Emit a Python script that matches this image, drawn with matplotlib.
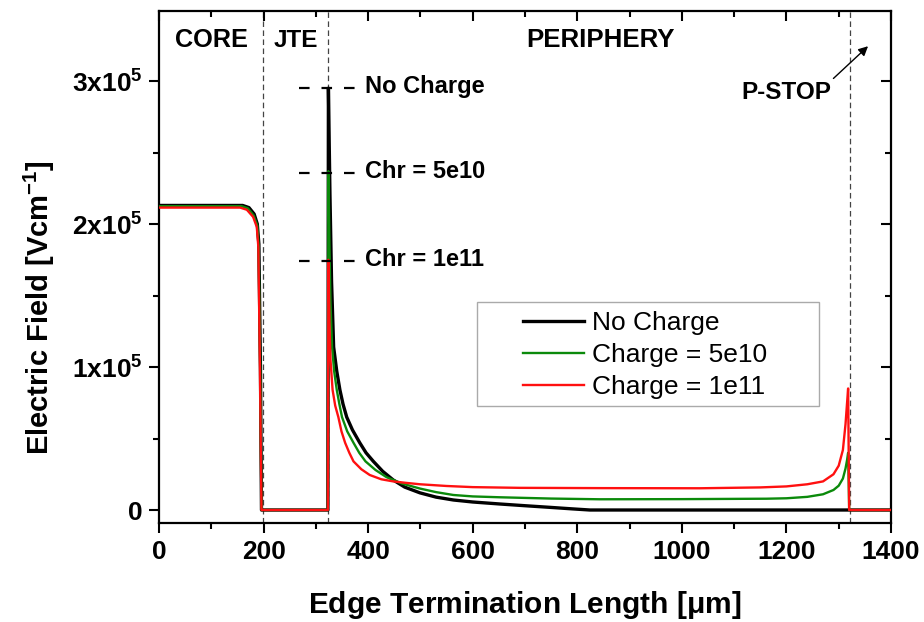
import matplotlib
matplotlib.use('Agg')
import matplotlib.pyplot as plt
from matplotlib.patches import Rectangle
from matplotlib.ticker import MultipleLocator

plt.rcParams['font.family'] = ['Liberation Sans', 'DejaVu Sans']
plt.rcParams['font.weight'] = 'bold'
plt.rcParams['mathtext.fontset'] = 'custom'
plt.rcParams['mathtext.rm'] = 'Liberation Sans'
plt.rcParams['mathtext.bf'] = 'Liberation Sans:bold'
plt.rcParams['mathtext.it'] = 'Liberation Sans:italic'
plt.rcParams['mathtext.default'] = 'bf'
plt.rcParams['lines.scale_dashes'] = False

# values (x in um, field in units of 1e5 V/cm)
x_nocharge = [0, 160, 172, 182, 188, 191, 194, 196, 323, 324, 327, 330, 334, 340, 346, 352, 359, 370, 384,
              396, 410, 428, 448, 470, 499, 530, 563, 600, 652, 700, 750, 790, 824, 1320, 1400]
e_nocharge = [2.13, 2.13, 2.115, 2.07, 2.00, 1.86, 1.0, 0, 0, 2.95, 2.2, 1.6, 1.14, 0.97, 0.84, 0.74, 0.65, 0.56, 0.47,
              0.40, 0.34, 0.27, 0.21, 0.16, 0.12, 0.09, 0.07, 0.056, 0.042, 0.03, 0.018, 0.008, 0, 0, 0]

x_5e10 = [0, 158, 170, 181, 188, 190.5, 193.5, 196, 323, 324, 326, 328, 331, 335, 340, 345, 350, 360, 372, 383,
          395, 414, 435, 465, 499, 530, 563, 600, 652, 750, 843, 1000, 1162, 1200, 1240, 1270, 1290, 1300,
          1308, 1313, 1316, 1318, 1320, 1400]
e_5e10 = [2.125, 2.125, 2.11, 2.06, 1.99, 1.85, 1.0, 0, 0, 2.37, 1.85, 1.45, 1.14, 0.97, 0.84, 0.74, 0.65, 0.55, 0.47, 0.40,
          0.34, 0.28, 0.23, 0.185, 0.15, 0.125, 0.105, 0.095, 0.089, 0.08, 0.075, 0.076, 0.079, 0.082, 0.092, 0.11, 0.14, 0.17,
          0.22, 0.29, 0.35, 0.40, 0, 0]

x_1e11 = [0, 155, 168, 180, 187, 190, 193, 196, 323, 324, 326, 328, 332, 337, 343, 349, 356, 364, 372, 387,
          403, 425, 448, 472, 499, 550, 600, 690, 850, 1034, 1150, 1200, 1240, 1270, 1290, 1300, 1308, 1313,
          1316, 1318, 1320, 1400]
e_1e11 = [2.115, 2.115, 2.10, 2.05, 1.98, 1.84, 1.0, 0, 0, 1.75, 1.3, 1.05, 0.84, 0.73, 0.65, 0.55, 0.47, 0.40, 0.34, 0.285,
          0.245, 0.215, 0.20, 0.19, 0.18, 0.168, 0.16, 0.155, 0.153, 0.152, 0.158, 0.165, 0.18, 0.20, 0.25, 0.31, 0.42, 0.60,
          0.75, 0.85, 0, 0]

series_labels = ['No Charge', 'Charge = 5e10', 'Charge = 1e11']
peak_labels = ['No Charge', 'Chr = 5e10', 'Chr = 1e11']
peak_values = [2.95, 2.357, 1.742]
boundaries = [198, 323, 1321]
region_labels = ['CORE', 'JTE', 'PERIPHERY']
region_x = [31, 220, 702]
region_size = [18.2, 17.5, 18.6]
yticks = [0, 1e5, 2e5, 3e5]
ytick_labels = ['0', r'$1x10^5$', r'$2x10^5$', r'$3x10^5$']

fig = plt.figure(figsize=(9.24, 6.22), dpi=100)
ax = fig.add_axes([159/924, 1-523/622, 732/924, 512/622])

for b in boundaries:
    ax.axvline(b, color='#444444', lw=0.9, dashes=(4, 2.5), zorder=1)

ax.plot(x_nocharge, [v*1e5 for v in e_nocharge], color='black', lw=2.4, label=series_labels[0], zorder=3)
ax.plot(x_5e10, [v*1e5 for v in e_5e10], color='#0b8a0b', lw=1.7, label=series_labels[1], zorder=4)
ax.plot(x_1e11, [v*1e5 for v in e_1e11], color='#ff1010', lw=1.7, label=series_labels[2], zorder=5)

# peak markers
for lab, pv in zip(peak_labels, peak_values):
    ax.plot([268, 375], [pv*1e5, pv*1e5], color='black', lw=1.6, dashes=(7.6, 8.6), zorder=6)
    ax.text(394, pv*1e5 - 0.037e5, lab, fontsize=17, fontweight='bold', va='baseline')

for lab, xr, fs in zip(region_labels, region_x, region_size):
    ax.text(xr, 3.24e5, lab, fontsize=fs, fontweight='bold', va='baseline')
ax.text(1113, 2.877e5, 'P-STOP', fontsize=17.5, fontweight='bold', va='baseline')
ax.annotate('', xy=(1360, 3.257e5), xytext=(1286, 3.005e5),
            arrowprops=dict(arrowstyle='-|>', color='black', lw=1.0, mutation_scale=14))

ax.set_xlim(0, 1400)
ax.set_ylim(-0.0909e5, 3.49e5)
ax.xaxis.set_major_locator(MultipleLocator(200))
ax.xaxis.set_minor_locator(MultipleLocator(100))
ax.set_yticks(yticks)
ax.set_yticklabels(ytick_labels)
ax.yaxis.set_minor_locator(MultipleLocator(0.5e5))

for s in ax.spines.values():
    s.set_linewidth(1.6)
ax.tick_params(which='major', length=7, width=1.5, labelsize=19, pad=5)
ax.tick_params(which='minor', length=4, width=1.5)
ax.tick_params(which='both', top=True, right=True, direction='out')
# top and right ticks point inwards
for t in ax.xaxis.get_ticklines(minor=False)[1::2] + ax.xaxis.get_ticklines(minor=True)[1::2]:
    t.set_marker(3)
for t in ax.yaxis.get_ticklines(minor=False)[1::2] + ax.yaxis.get_ticklines(minor=True)[1::2]:
    t.set_marker(0)

ax.set_xlabel(r'Edge Termination Length [$\mathbf{\mu}$m]', fontsize=21.5, fontweight='bold')
ax.set_ylabel(r'Electric Field [Vcm$^{-1}$]', fontsize=21, fontweight='bold')
ax.xaxis.set_label_coords(0.5, -0.128)
ax.yaxis.set_label_coords(-0.139, 0.42)

leg = ax.legend(loc='upper left', bbox_to_anchor=((523-159)/732, (523-311)/512), frameon=False,
                borderpad=0, borderaxespad=0, handlelength=2.3, handletextpad=0.31, labelspacing=0.3,
                prop={'family': 'Liberation Sans', 'weight': 'normal', 'size': 19})
ax.add_patch(Rectangle(((477-159)/732, (523-406)/512), (819-477)/732, (406-302)/512,
                       transform=ax.transAxes, fill=False, edgecolor='#aaaaaa', lw=1.0, zorder=7))

fig.savefig('out.png', dpi=100)
